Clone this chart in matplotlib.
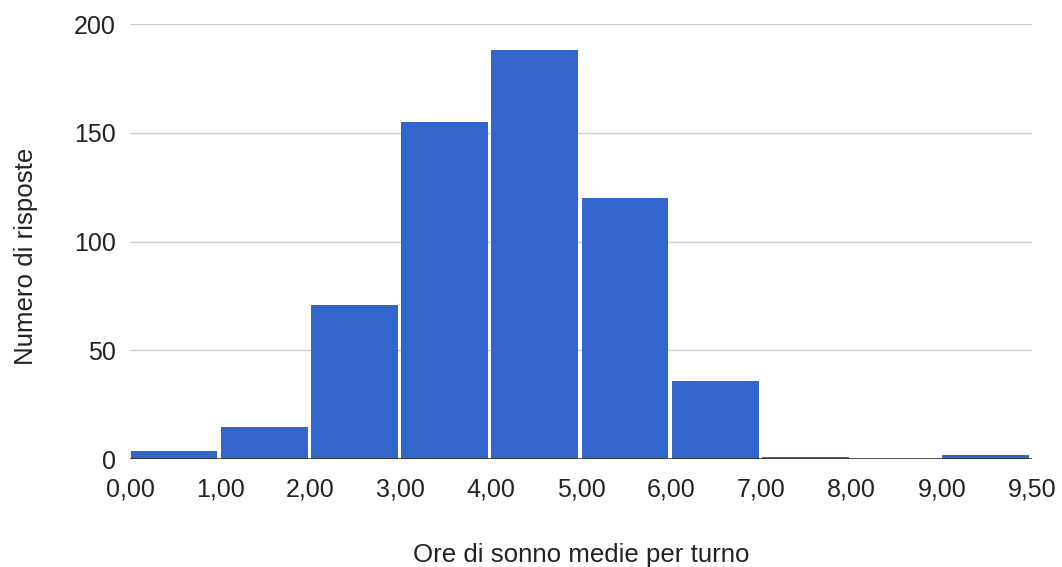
import matplotlib
matplotlib.use("Agg")
import matplotlib.pyplot as plt

# Histogram of average sleep hours per shift (equal-width bins, edge labels)
bin_labels = ["0,00", "1,00", "2,00", "3,00", "4,00", "5,00",
              "6,00", "7,00", "8,00", "9,00", "9,50"]
counts = [4, 15, 71, 155, 188, 120, 36, 1, 0, 2]
y_ticks = [0, 50, 100, 150, 200]

plt.rcParams['font.family'] = ['Liberation Sans', 'DejaVu Sans']

fig = plt.figure(figsize=(10.62, 5.67), dpi=100)
ax = fig.add_axes([130 / 1062, 1 - 459.3 / 567, (1032 - 130) / 1062, (459.3 - 24) / 567])

positions = list(range(len(counts)))
ax.bar([p + 0.006 for p in positions], counts, width=0.962, align='edge',
       color='#3366CC', linewidth=0, zorder=3)

ax.set_xlim(0, len(counts))
ax.set_ylim(0, 200)

for y in y_ticks[1:]:
    ax.axhline(y, color='#cccccc', linewidth=1.0, zorder=1)
ax.axhline(0, color='#333333', linewidth=1.2, zorder=4)

for s in ax.spines.values():
    s.set_visible(False)

ax.set_xticks(range(len(bin_labels)))
ax.set_xticklabels(bin_labels)
ax.set_yticks(y_ticks)
ax.tick_params(axis='both', length=0, labelsize=18, colors='#222222')
ax.tick_params(axis='x', pad=13)
ax.tick_params(axis='y', pad=10)

ax.set_xlabel("Ore di sonno medie per turno", fontsize=18.6, color='#222222', labelpad=30)
ax.set_ylabel("Numero di risposte", fontsize=18.6, color='#222222', labelpad=26)
ax.yaxis.label.set_y(0.467)

fig.savefig("out.png", dpi=100, facecolor='white')
